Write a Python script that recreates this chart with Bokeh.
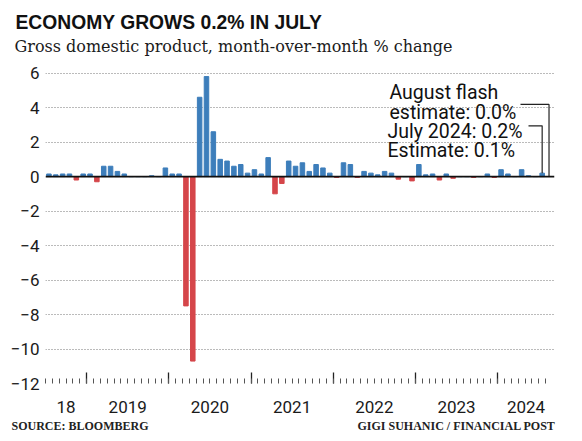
from bokeh.plotting import figure
from bokeh.models import (Range1d, FixedTicker, LinearAxis, Span, Label,
                          ColumnDataSource, Title)
from bokeh.embed import file_html
from bokeh.resources import INLINE

# ---- data: monthly GDP % change, Jul 2018 .. Jul 2024 ----
months = (["2018-%02d" % m for m in range(7, 13)] +
          ["%d-%02d" % (y, m) for y in range(2019, 2024) for m in range(1, 13)] +
          ["2024-%02d" % m for m in range(1, 8)])
gdp_change = [
    0.15, 0.10, 0.15, 0.15, -0.20, 0.15,                                   # 2018 H2
    0.15, -0.30, 0.60, 0.60, 0.30, 0.15, 0.0, 0.0, 0.0, 0.05, 0.0, 0.50,     # 2019
    0.15, 0.15, -7.5, -10.7, 4.6, 5.8, 2.6, 1.0, 0.9, 0.6, 0.7, 0.2,        # 2020
    0.40, 0.15, 1.1, -1.0, -0.4, 0.9, 0.6, 0.8, 0.3, 0.7, 0.5, 0.2,         # 2021
    -0.05, 0.8, 0.7, -0.05, 0.3, 0.2, 0.1, 0.3, 0.2, -0.15, 0.0, -0.25,     # 2022
    0.7, 0.1, 0.15, -0.2, 0.15, -0.1, 0.0, 0.0, -0.05, 0.0, 0.15, -0.05,    # 2023
    0.4, 0.15, 0.0, 0.4, 0.05, 0.0, 0.2,                                   # 2024
]
year_labels = ["18", "2019", "2020", "2021", "2022", "2023", "2024"]
y_ticks = [-12, -10, -8, -6, -4, -2, 0, 2, 4, 6]
aug_flash = 0.0
july_value = 0.2

TITLE = "ECONOMY GROWS 0.2% IN JULY"
SUBTITLE = "Gross domestic product, month-over-month % change"
SOURCE = "SOURCE: BLOOMBERG"
CREDIT = "GIGI SUHANIC / FINANCIAL POST"

BLUE = "#3d7ebb"
RED = "#d5464a"
SANS = "Roboto"

idx = list(range(len(gdp_change)))
colors = [BLUE if v >= 0 else RED for v in gdp_change]
src = ColumnDataSource(dict(x=idx, top=gdp_change, color=colors, month=months))

X_END = 73.8
p = figure(output_backend="svg", toolbar_location=None,
           frame_width=509, frame_height=319,
           min_border_left=45, min_border_right=14,
           min_border_top=64, min_border_bottom=50,
           x_range=Range1d(-0.5, X_END), y_range=Range1d(-12, 6.5),
           background_fill_color="white", border_fill_color="white",
           outline_line_color=None, x_axis_location=None)
p.title.visible = False

# pixel -> data helpers (page coordinates of the reference)
PX_LEFT, PX_PER_M = 46.0, 509 / (X_END + 0.5)
ZERO_PY, PX_PER_UNIT = 176.5, 319 / 18.5
def mx(px):
    return -0.5 + (px - PX_LEFT) / PX_PER_M
def vy(py):
    return (ZERO_PY - py) / PX_PER_UNIT

# titles above
sub = Title(text=SUBTITLE, align="left", offset=-31, text_font="DejaVu Serif",
            text_font_size="16px", text_font_style="normal", text_color="#1a1a1a",
            standoff=17)
p.add_layout(sub, "above")
ttl = Title(text=TITLE, align="left", offset=-30, text_font="Liberation Sans",
            text_font_size="19.3px", text_font_style="bold", text_color="#111111",
            standoff=-12)
p.add_layout(ttl, "above")

# grid
p.xgrid.visible = False
p.ygrid.ticker = FixedTicker(ticks=[t for t in y_ticks if t not in (0, -12)])
p.ygrid.grid_line_color = "#777777"
p.ygrid.grid_line_dash = "1 2"
p.ygrid.grid_line_width = 1

# y axis
p.yaxis.ticker = FixedTicker(ticks=y_ticks)
p.yaxis.axis_line_color = None
p.yaxis.major_tick_line_color = None
p.yaxis.minor_tick_line_color = None
p.yaxis.major_tick_out = 0
p.yaxis.minor_tick_out = 0
p.yaxis.major_label_text_font = SANS
p.yaxis.major_label_text_font_size = "17px"
p.yaxis.major_label_text_color = "#1a1a1a"
p.yaxis.major_label_standoff = 6

# x axis: ticks only (year boundaries long, months short)
n = len(gdp_change) + 1
month_bounds = [i - 0.5 for i in range(n)]
year_bounds = [i - 0.5 for i in range(len(months)) if months[i].endswith("-01")]
tick_axis = LinearAxis(ticker=FixedTicker(ticks=year_bounds, minor_ticks=month_bounds))
tick_axis.axis_line_color = None
tick_axis.major_tick_in = 11
tick_axis.major_tick_out = 0
tick_axis.minor_tick_in = 5
tick_axis.minor_tick_out = 0
tick_axis.major_tick_line_color = "#222222"
tick_axis.minor_tick_line_color = "#555555"
tick_axis.major_tick_line_width = 1.3
tick_axis.major_label_text_font_size = "0px"
tick_axis.major_label_standoff = 0
p.add_layout(tick_axis, "below")

# year labels axis
starts = [-0.5] + year_bounds
ends = year_bounds + [X_END]
centers = [(a + b) / 2 for a, b in zip(starts, ends)]
lab_axis = LinearAxis(ticker=FixedTicker(ticks=centers, minor_ticks=[]))
lab_axis.axis_line_color = None
lab_axis.major_tick_line_color = None
lab_axis.major_tick_out = 0
lab_axis.major_label_overrides = {c: t for c, t in zip(centers, year_labels)}
lab_axis.major_label_text_font = SANS
lab_axis.major_label_text_font_size = "17px"
lab_axis.major_label_text_color = "#1a1a1a"
lab_axis.major_label_standoff = 17
p.add_layout(lab_axis, "below")

# footer axis (source / credit)
foot_pos = [mx(80.5), mx(457)]
foot_axis = LinearAxis(ticker=FixedTicker(ticks=foot_pos, minor_ticks=[]))
foot_axis.axis_line_color = None
foot_axis.major_tick_line_color = None
foot_axis.major_tick_out = 0
foot_axis.major_label_overrides = {foot_pos[0]: SOURCE, foot_pos[1]: CREDIT}
foot_axis.major_label_text_font = "Liberation Serif"
foot_axis.major_label_text_font_size = "12px"
foot_axis.major_label_text_font_style = "bold"
foot_axis.major_label_text_color = "#222222"
foot_axis.major_label_standoff = 3
p.add_layout(foot_axis, "below")

# bars
p.vbar(x="x", top="top", bottom=0, width=0.66, color="color", source=src)

# zero line
p.add_layout(Span(location=0, dimension="width", line_color="#111111", line_width=1.6))

# leader lines
aug_i = len(gdp_change)
jul_i = len(gdp_change) - 1
p.line([mx(521), aug_i, aug_i], [vy(104.3), vy(104.3), aug_flash], line_color="#222222", line_width=1.2)
p.line([mx(529), jul_i, jul_i], [vy(125.7), vy(125.7), july_value], line_color="#222222", line_width=1.2)

# annotation texts
def add_text(txt, px, py, size="19.5px"):
    p.add_layout(Label(x=mx(px), y=vy(py), text=txt, text_font=SANS,
                       text_font_size=size, text_color="#111111",
                       text_align="left", text_baseline="alphabetic"))

add_text("August flash", 390, 92.5)
add_text("estimate: 0.0%", 390, 112)
add_text("July 2024: 0.2%", 388, 131)
add_text("Estimate: 0.1%", 388, 150.5)

open("out.html", "w").write(file_html(p, INLINE))
